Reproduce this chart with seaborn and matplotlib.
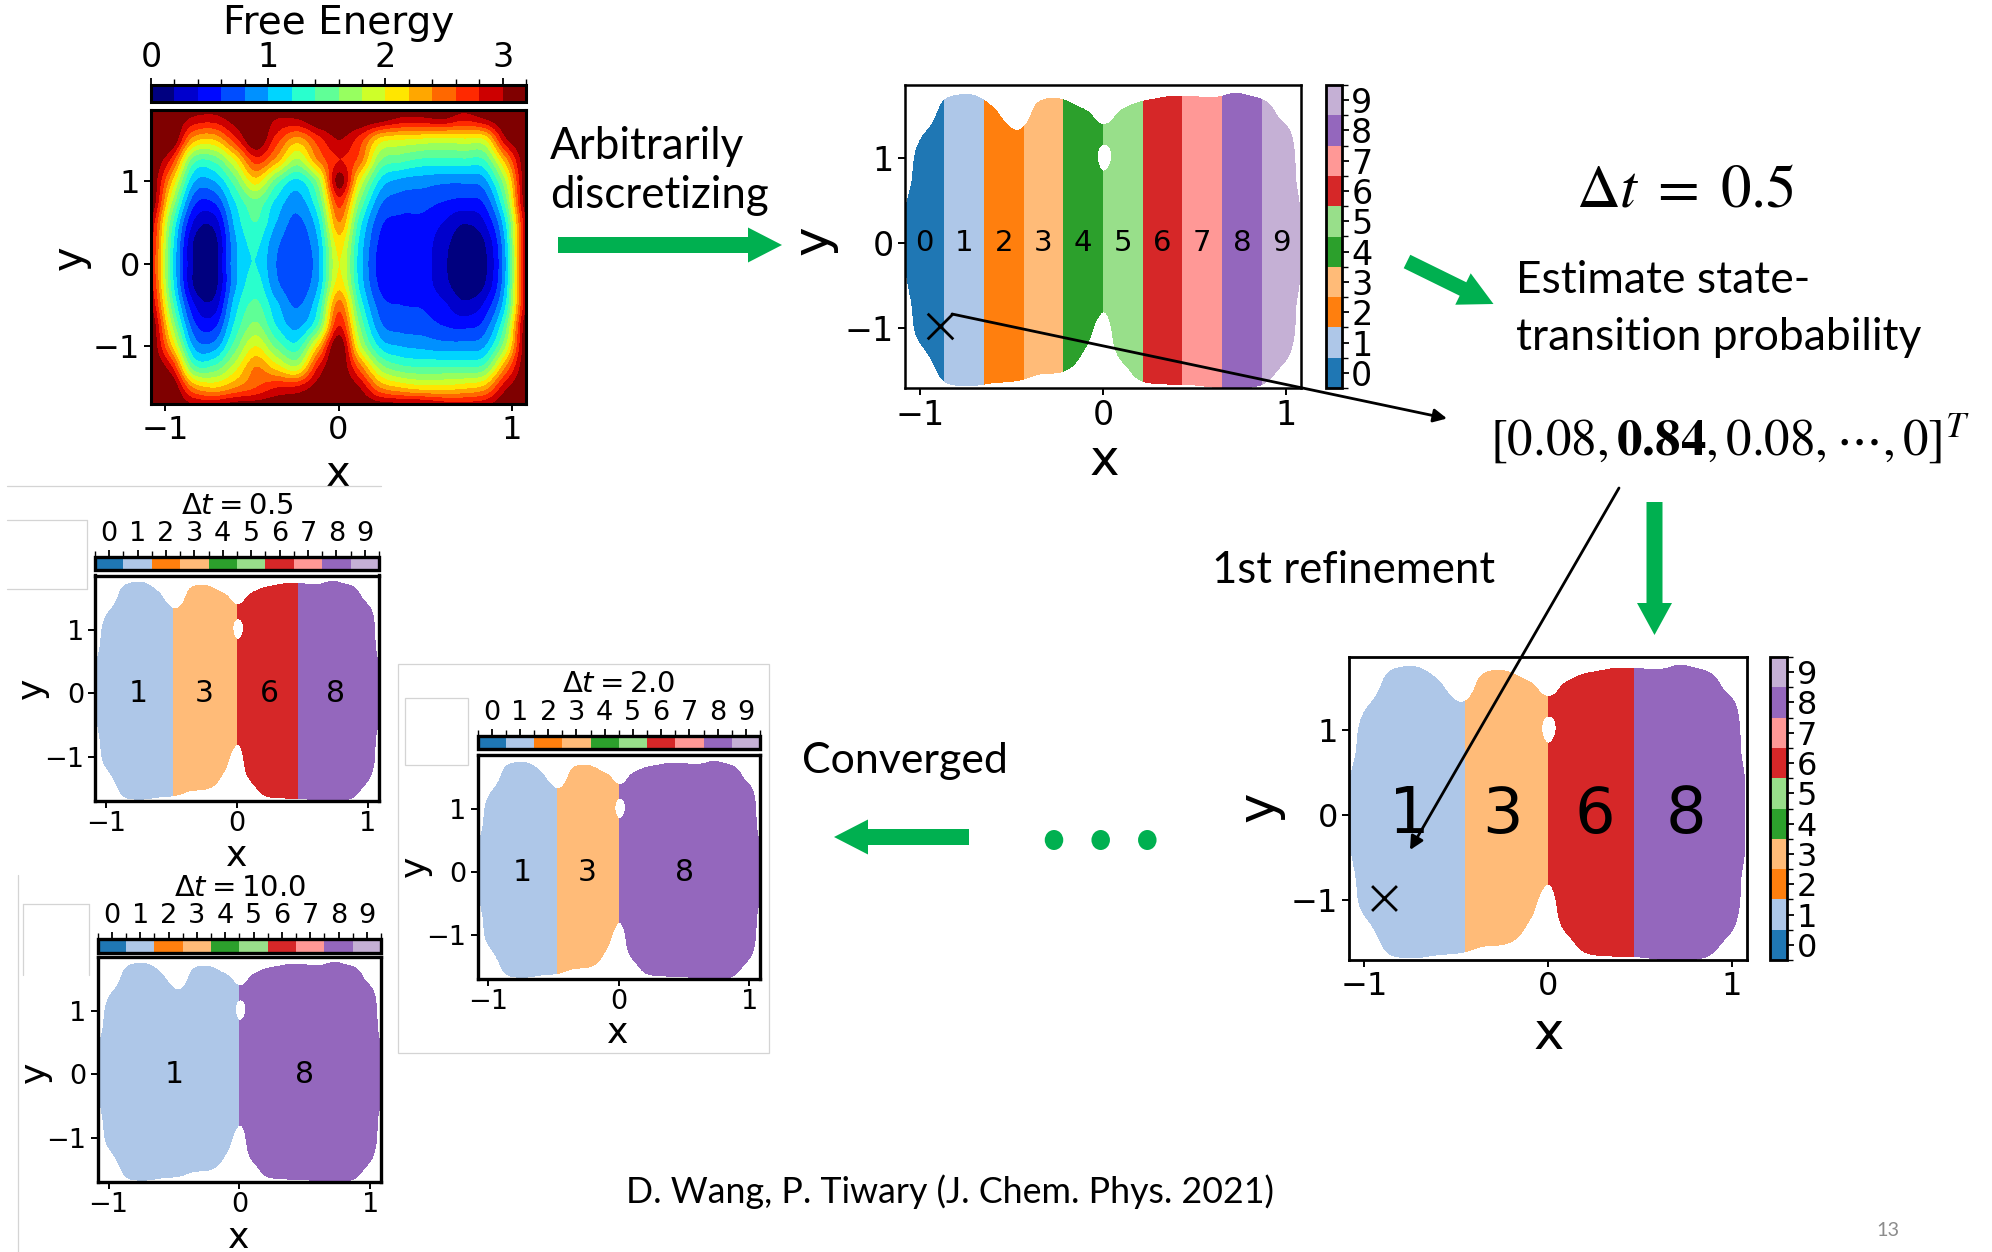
import numpy as np
import matplotlib
matplotlib.use("Agg")
import matplotlib.pyplot as plt
from matplotlib.colors import ListedColormap, BoundaryNorm
from matplotlib.patches import FancyArrow, Ellipse, Rectangle
from matplotlib.cm import ScalarMappable
import seaborn as sns

# ---------------------------------------------------------------- data
# Free-energy surface on a regular (x, y) grid; rows run from low y to high y.
fe_x = [-1.08, -0.96, -0.84, -0.72, -0.60, -0.48, -0.36, -0.24, -0.12, 0.00,
        0.12, 0.24, 0.36, 0.48, 0.60, 0.72, 0.84, 0.96, 1.08]
fe_y = [-1.75, -1.50, -1.25, -1.00, -0.75, -0.50, -0.25, 0.00, 0.25, 0.50,
        0.75, 1.00, 1.25, 1.50, 1.75, 2.00]
free_energy = [
    [3.2, 3.2, 3.1, 3.1, 3.2, 3.2, 3.2, 3.2, 3.2, 3.2, 3.2, 3.2, 3.2, 3.2, 3.05, 3.0, 3.05, 3.2, 3.2],
    [3.2, 3.2, 2.4, 2.2, 2.4, 2.6, 2.8, 2.85, 3.1, 3.2, 3.0, 2.4, 2.2, 2.1, 2.1, 2.15, 2.3, 2.95, 3.2],
    [3.2, 2.8, 1.5, 1.45, 1.9, 2.4, 2.1, 1.85, 2.8, 3.2, 2.5, 1.7, 1.45, 1.4, 1.4, 1.4, 1.5, 2.4, 3.2],
    [3.2, 2.2, 1.0, 0.9, 1.5, 2.0, 1.55, 1.3, 2.2, 3.2, 1.9, 1.15, 1.0, 0.95, 0.9, 0.9, 1.0, 1.8, 3.2],
    [3.2, 1.8, 0.7, 0.55, 1.25, 1.65, 1.2, 0.95, 1.45, 2.8, 1.6, 0.85, 0.72, 0.7, 0.6, 0.55, 0.7, 1.5, 3.2],
    [3.0, 1.5, 0.45, 0.28, 1.1, 1.45, 1.05, 0.78, 1.2, 2.5, 1.35, 0.7, 0.6, 0.58, 0.45, 0.25, 0.45, 1.2, 3.0],
    [2.85, 1.3, 0.2, 0.1, 0.95, 1.3, 0.85, 0.68, 1.0, 2.1, 1.15, 0.55, 0.45, 0.5, 0.28, 0.08, 0.2, 1.05, 3.0],
    [2.8, 1.25, 0.2, 0.1, 0.95, 1.2, 0.8, 0.62, 0.95, 2.0, 1.1, 0.5, 0.42, 0.5, 0.25, 0.05, 0.15, 1.0, 3.0],
    [2.85, 1.3, 0.2, 0.1, 0.95, 1.25, 0.85, 0.68, 1.0, 2.1, 1.15, 0.55, 0.45, 0.5, 0.28, 0.08, 0.2, 1.05, 3.0],
    [2.95, 1.45, 0.4, 0.28, 1.05, 1.4, 1.0, 0.75, 1.15, 2.4, 1.3, 0.65, 0.55, 0.55, 0.4, 0.22, 0.4, 1.2, 3.0],
    [3.2, 1.8, 0.7, 0.62, 1.2, 1.55, 1.15, 0.9, 1.4, 2.7, 1.6, 0.85, 0.7, 0.68, 0.6, 0.55, 0.65, 1.5, 3.2],
    [3.2, 2.2, 1.05, 1.0, 1.5, 2.1, 1.5, 1.15, 1.7, 3.1, 2.0, 1.15, 0.95, 0.9, 0.85, 0.85, 0.95, 1.8, 3.2],
    [3.2, 2.7, 1.5, 1.45, 2.0, 2.7, 2.3, 1.75, 2.4, 2.8, 2.5, 1.6, 1.45, 1.35, 1.35, 1.35, 1.4, 2.3, 3.2],
    [3.2, 3.2, 2.3, 2.2, 2.7, 3.2, 2.7, 2.3, 2.7, 3.0, 2.7, 2.1, 2.0, 1.95, 1.9, 1.95, 2.0, 2.95, 3.2],
    [3.2, 3.2, 2.95, 2.9, 3.1, 3.2, 3.0, 3.0, 3.2, 3.2, 3.2, 3.1, 2.95, 2.95, 3.0, 2.85, 3.0, 3.2, 3.2],
    [3.2, 3.2, 3.2, 3.2, 3.2, 3.2, 3.2, 3.2, 3.2, 3.2, 3.2, 3.2, 3.2, 3.2, 3.2, 3.2, 3.2, 3.2, 3.2],
]
fe_levels = [0.0, 0.2, 0.4, 0.6, 0.8, 1.0, 1.2, 1.4, 1.6, 1.8, 2.0, 2.2, 2.4,
             2.6, 2.8, 3.0, 3.2]
fe_ticks = [0, 1, 2, 3]
visited_cutoff = 2.9          # bins above this free energy were never visited

# State partitions along x
state_ids = [0, 1, 2, 3, 4, 5, 6, 7, 8, 9]
grid_edges = [-1.2, -0.868, -0.651, -0.434, -0.217, 0.0, 0.217, 0.434, 0.651, 0.868, 1.2]
grid_label_x = [-0.976, -0.760, -0.543, -0.326, -0.109, 0.109, 0.326, 0.543, 0.760, 0.976]
refined_edges = [-1.2, -0.45, 0.0, 0.47, 1.2]
refined_states = [1, 3, 6, 8]
refined_label_x = [-0.755, -0.25, 0.255, 0.75]
dt05_edges = [-1.2, -0.485, 0.0, 0.466, 1.2]
dt05_states = [1, 3, 6, 8]
dt05_label_x = [-0.75, -0.25, 0.25, 0.75]
dt20_edges = [-1.2, -0.473, 0.0, 1.2]
dt20_states = [1, 3, 8]
dt20_label_x = [-0.74, -0.243, 0.507]
dt100_edges = [-1.2, 0.0, 1.2]
dt100_states = [1, 8]
dt100_label_x = [-0.5, 0.5]
lag_times = ["0.5", "2.0", "10.0"]

start_point = [-0.89, -0.97]
transition_row = ["0.08", "0.84", "0.08", "0"]

# ---------------------------------------------------------------- style
W, H, DPI = 1992, 1252, 100
sns.set_theme(style="ticks")
plt.rcParams.update({
    "font.family": ["DejaVu Sans"],
    "mathtext.fontset": "dejavusans",
    "axes.edgecolor": "black",
    "axes.labelcolor": "black",
    "xtick.color": "black",
    "ytick.color": "black",
    "text.color": "black",
    "figure.facecolor": "white",
    "axes.facecolor": "white",
})
SLIDE_FONT = ["Lato", "DejaVu Sans"]
GREEN = "#00B050"
GRAY = "#d4d4d4"
SMOOTH = "catrom"

state_colors = sns.color_palette("tab20", 10)
state_cmap = ListedColormap(state_colors)
state_norm = BoundaryNorm(np.arange(-0.5, 10.5, 1.0), 10)
fe_cmap = matplotlib.colormaps["jet"].resampled(len(fe_levels) - 1)
fe_norm = BoundaryNorm(fe_levels, fe_cmap.N)
mask_cmap = ListedColormap([(1, 1, 1, 0), (1, 1, 1, 1)])
mask_norm = BoundaryNorm([-100.0, visited_cutoff, 100.0], 2)

FE = np.array(free_energy)
dx = fe_x[1] - fe_x[0]
dy = fe_y[1] - fe_y[0]
fe_extent = (fe_x[0] - dx / 2, fe_x[-1] + dx / 2, fe_y[0] - dy / 2, fe_y[-1] + dy / 2)
XLIM = (-1.083, 1.083)
YLIM = (-1.70, 1.86)

fig = plt.figure(figsize=(W / DPI, H / DPI), dpi=DPI)


def px_axes(l, t, r, b, **kw):
    return fig.add_axes([l / W, 1 - b / H, (r - l) / W, (b - t) / H], **kw)


def frame(ax, lw, tick_size):
    for sp in ax.spines.values():
        sp.set_visible(True)
        sp.set_linewidth(lw)
        sp.set_color("black")
    ax.set_xticks([-1, 0, 1])
    ax.set_yticks([-1, 0, 1])
    ax.tick_params(direction="out", length=5, width=1.4, labelsize=tick_size, pad=3)
    ax.set_xlim(*XLIM)
    ax.set_ylim(*YLIM)


def place_labels(ax, size, xc, yc):
    pos = ax.get_position()

    def to_axes(p):
        return ((p[0] / W - pos.x0) / pos.width, ((1 - p[1] / H) - pos.y0) / pos.height)

    ax.set_xlabel("x", fontsize=size, va="center", ha="center")
    ax.xaxis.set_label_coords(*to_axes(xc))
    em = size * DPI / 72
    ax.set_ylabel("y", fontsize=size, va="center", ha="center", rotation=90)
    ax.yaxis.set_label_coords(*to_axes((yc[0] - 0.105 * em, yc[1])))


def draw_partition(ax, edges, states, label_x, label_size):
    for lo, hi, s in zip(edges[:-1], edges[1:], states):
        ax.axvspan(lo, hi, color=state_colors[s], lw=0, zorder=1)
    ax.imshow(FE, origin="lower", extent=fe_extent, cmap=mask_cmap, norm=mask_norm,
              interpolation=SMOOTH, interpolation_stage="data", aspect="auto", zorder=2)
    for s, lx in zip(states, label_x):
        ax.text(lx, 0.0, str(s), ha="center", va="center", fontsize=label_size, zorder=3)


def state_colorbar(cax, orientation, tick_size, lw):
    sm = ScalarMappable(norm=state_norm, cmap=state_cmap)
    cb = fig.colorbar(sm, cax=cax, orientation=orientation, ticks=state_ids)
    cb.outline.set_linewidth(lw)
    cb.outline.set_edgecolor("black")
    if orientation == "horizontal":
        cax.xaxis.set_ticks_position("top")
    cax.tick_params(labelsize=tick_size, length=5, width=1.3, pad=2)
    return cb


# ---------------------------------------------------------------- free energy map
ax_fe = px_axes(151, 110, 526, 404)
im = ax_fe.imshow(FE, origin="lower", extent=fe_extent, cmap=fe_cmap, norm=fe_norm,
                  interpolation=SMOOTH, interpolation_stage="data", aspect="auto")
frame(ax_fe, 2.2, 23)
place_labels(ax_fe, 30, (338.5, 474), (74, 258))
cax_fe = px_axes(151, 85, 526, 102)
cb_fe = fig.colorbar(im, cax=cax_fe, orientation="horizontal", ticks=fe_ticks)
cb_fe.outline.set_linewidth(2.2)
cax_fe.xaxis.set_ticks_position("top")
cax_fe.tick_params(labelsize=24, length=5, width=1.3, pad=3)

# ---------------------------------------------------------------- initial grid partition
ax_p1 = px_axes(905, 85, 1301, 388)
draw_partition(ax_p1, grid_edges, state_ids, grid_label_x, 21)
frame(ax_p1, 1.8, 24)
place_labels(ax_p1, 36, (1104, 461.5), (819, 240))
ax_p1.scatter([start_point[0]], [start_point[1]], marker="x", s=340, color="black",
              linewidths=2.0, zorder=4)
state_colorbar(px_axes(1326, 85, 1341.5, 388), "vertical", 24, 2.0)

# ---------------------------------------------------------------- first refinement
ax_p2 = px_axes(1349, 657, 1747, 960)
draw_partition(ax_p2, refined_edges, refined_states, refined_label_x, 46)
frame(ax_p2, 2.0, 23)
place_labels(ax_p2, 37, (1549, 1035), (1265, 807))
ax_p2.scatter([start_point[0]], [start_point[1]], marker="x", s=320, color="black",
              linewidths=2.0, zorder=4)
state_colorbar(px_axes(1770, 657, 1787, 960), "vertical", 23, 2.0)

# ---------------------------------------------------------------- converged partitions
small_panels = [
    ((95, 575.5, 379, 801), (95, 557, 379, 570), dt05_edges, dt05_states, dt05_label_x,
     (237, 856), (36, 688.5), (237, 506)),
    ((477.5, 755, 760, 979), (477.5, 736, 760, 749), dt20_edges, dt20_states, dt20_label_x,
     (618, 1033), (419, 866.7), (618.5, 684.5)),
    ((97.7, 956.7, 381, 1182), (97.7, 939, 381, 952.7), dt100_edges, dt100_states, dt100_label_x,
     (239, 1238), (39, 1072), (239.5, 887.5)),
]
small_axes = []
for box, cbox, edges, states, lx, xl, yl, title_xy in small_panels:
    ax = px_axes(*box)
    draw_partition(ax, edges, states, lx, 21.5)
    frame(ax, 2.4, 19.5)
    ax.tick_params(axis="x", pad=2)
    place_labels(ax, 26, xl, yl)
    state_colorbar(px_axes(*cbox), "horizontal", 19.5, 2.4)
    small_axes.append((ax, title_xy))

# ---------------------------------------------------------------- slide annotations
ov = fig.add_axes([0, 0, 1, 1], zorder=10)
ov.set_xlim(0, W)
ov.set_ylim(H, 0)
ov.axis("off")
ov.patch.set_alpha(0)
renderer = fig.canvas.get_renderer()


def fit_text(x, y, s, width, size=30, **kw):
    t = ov.text(x, y, s, fontsize=size, **kw)
    w = t.get_window_extent(renderer).width
    t.set_fontsize(size * width / w)
    return t


ov.text(338.5, 34, "Free Energy", ha="center", va="baseline", fontsize=28)

for (ax, (tx, ty)), lag in zip(small_axes, lag_times):
    ov.text(tx, ty, rf"$\Delta t = {lag}$", ha="center", va="center", fontsize=21)

t_disc = fit_text(550, 208.3, "discretizing", 218, family=SLIDE_FONT, va="baseline")
ov.text(550, 159.3, "Arbitrarily", fontsize=t_disc.get_fontsize(), family=SLIDE_FONT,
        va="baseline")
t_trans = fit_text(1516, 350, "transition probability", 405, family=SLIDE_FONT, va="baseline")
ov.text(1516, 293.3, "Estimate state-", fontsize=t_trans.get_fontsize(), family=SLIDE_FONT,
        va="baseline")
fit_text(1211.5, 583, "1st refinement", 283, family=SLIDE_FONT, va="baseline")
fit_text(802, 773, "Converged", 206, family=SLIDE_FONT, va="baseline")
fit_text(626, 1203, "D. Wang, P. Tiwary (J. Chem. Phys. 2021)", 648, family=SLIDE_FONT,
         va="baseline")
fit_text(1876, 1236, "13", 23, family=SLIDE_FONT, va="baseline", color="#8c8c8c")

fit_text(1576, 206.7, rf"$\Delta t\;=\;{lag_times[0]}$", 219, math_fontfamily="stix",
         va="baseline")
vec = rf"$[{transition_row[0]}, \mathbf{{{transition_row[1]}}}, {transition_row[2]}, \cdots, {transition_row[3]}]^T$"
fit_text(1490, 455, vec, 480, math_fontfamily="stix", va="baseline")


def green_arrow(x0, y0, x1, y1, width=16, head_width=35, head_length=34):
    ov.add_patch(FancyArrow(x0, y0, x1 - x0, y1 - y0, width=width, head_width=head_width,
                            head_length=head_length, length_includes_head=True,
                            color=GREEN, lw=0))


green_arrow(558, 245, 782, 245)
green_arrow(1407, 261.5, 1493.5, 304, width=15)
green_arrow(1654.5, 502, 1654.5, 635, head_length=32)
green_arrow(969, 837, 834, 837)
for cx in (1054, 1100.7, 1147.3):
    ov.add_patch(Ellipse((cx, 840), 18.5, 20, color=GREEN, lw=0))

arrow_style = dict(arrowstyle="-|>", color="black", lw=2.0, mutation_scale=20,
                   shrinkA=0, shrinkB=0)
ov.annotate("", xy=(1447, 418.5), xytext=(952, 314), arrowprops=arrow_style)
ov.annotate("", xy=(1410, 850), xytext=(1619, 488), arrowprops=arrow_style)

# faint frames left over around the pasted panels
for (xa, ya), (xb, yb) in [((7, 486), (381, 486)), ((7, 520), (87, 520)),
                           ((87, 520), (87, 589)), ((7, 589), (87, 589)),
                           ((18, 875), (18, 1252)), ((22.7, 904), (89.3, 904)),
                           ((22.7, 904), (22.7, 975)), ((89.3, 904), (89.3, 975))]:
    ov.plot([xa, xb], [ya, yb], color=GRAY, lw=0.9)
ov.add_patch(Rectangle((398, 664), 371, 389, fill=False, ec=GRAY, lw=0.9))
ov.add_patch(Rectangle((405, 698), 63, 67, fill=False, ec=GRAY, lw=0.9))

fig.savefig("out.png", dpi=DPI)
